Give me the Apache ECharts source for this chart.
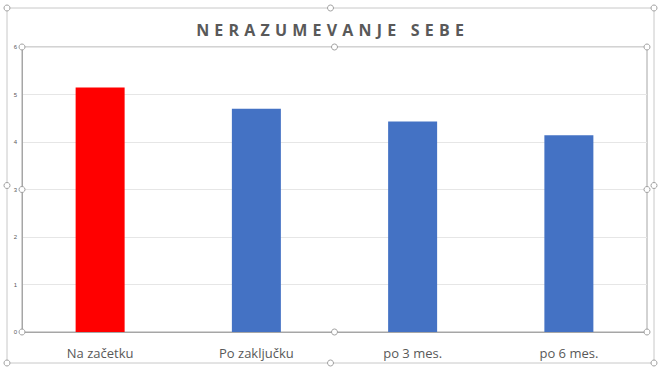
<!DOCTYPE html>
<html>
<head>
<meta charset="utf-8">
<script src="https://cdn.jsdelivr.net/npm/echarts@6/dist/echarts.min.js"></script>
<style>html,body{margin:0;padding:0;background:#fff}#c{width:660px;height:370px}</style>
</head>
<body>
<div id="c"></div>
<script>
const categories = ['Na začetku', 'Po zaključku', 'po 3 mes.', 'po 6 mes.'];
const values = [5.15, 4.70, 4.43, 4.14];
const barColors = ['#FF0000', '#4472C4', '#4472C4', '#4472C4'];
const yTicks = [0, 1, 2, 3, 4, 5, 6];
const titleText = 'NERAZUMEVANJE SEBE';

const chart = echarts.init(document.getElementById('c'), null, {renderer: 'svg'});

function handle(x, y) {
  return {type: 'circle', shape: {cx: x, cy: y, r: 3}, style: {fill: '#fff', stroke: '#a0a0a0', lineWidth: 1}, z: 100};
}
const gl = 22, gr = 647, gt = 47, gb = 332;
const ol = 7, or = 654, ot = 8, ob = 363;

chart.setOption({
  animation: false,
  backgroundColor: '#fff',
  title: {
    text: titleText,
    left: 'center',
    top: 17,
    textStyle: {fontSize: 16, fontWeight: 'bold', color: '#595959', fontFamily: 'Open Sans'}
  },
  grid: {left: gl, right: 660 - gr, top: gt, bottom: 370 - gb, show: true, borderColor: '#a6a6a6', borderWidth: 1},
  xAxis: {
    type: 'category',
    data: categories,
    axisLine: {show: true, lineStyle: {color: '#a6a6a6'}},
    axisTick: {show: false},
    axisLabel: {fontSize: 13, color: '#595959', margin: 14, fontFamily: 'Open Sans'}
  },
  yAxis: {
    type: 'value',
    min: yTicks[0], max: yTicks[yTicks.length - 1], interval: 1,
    axisLine: {show: true, lineStyle: {color: '#a6a6a6'}},
    axisTick: {show: false},
    axisLabel: {fontSize: 6, color: '#595959', margin: 5},
    splitLine: {lineStyle: {color: '#e6e6e6'}}
  },
  series: [{
    type: 'bar',
    data: values.map((v, i) => ({value: v, itemStyle: {color: barColors[i]}})),
    barWidth: 49
  }],
  graphic: [
    {type: 'rect', shape: {x: ol, y: ot, width: or - ol, height: ob - ot}, style: {fill: 'none', stroke: '#c8c8c8', lineWidth: 1}, z: 99},
    handle(ol, ot), handle((ol + or) / 2, ot), handle(or, ot),
    handle(ol, (ot + ob) / 2), handle(or, (ot + ob) / 2),
    handle(ol, ob), handle((ol + or) / 2, ob), handle(or, ob),
    handle(gl, gt), handle((gl + gr) / 2, gt), handle(gr, gt),
    handle(gl, (gt + gb) / 2), handle(gr, (gt + gb) / 2),
    handle(gl, gb), handle((gl + gr) / 2, gb), handle(gr, gb)
  ]
});

// Widen the title's letter spacing as in the reference
function spaceTitle() {
  document.querySelectorAll('#c svg text').forEach(function (t) {
    if (t.textContent === titleText) {
      t.setAttribute('letter-spacing', '5.2px');
      t.style.letterSpacing = '5.2px';
      var bb = t.getBBox();
      // keep it centred: shift by half the trailing spacing
      t.setAttribute('transform', (t.getAttribute('transform') || '') + ' translate(2.6,0)');
    }
  });
}
spaceTitle();
chart.on('finished', spaceTitle);
</script>
</body>
</html>
